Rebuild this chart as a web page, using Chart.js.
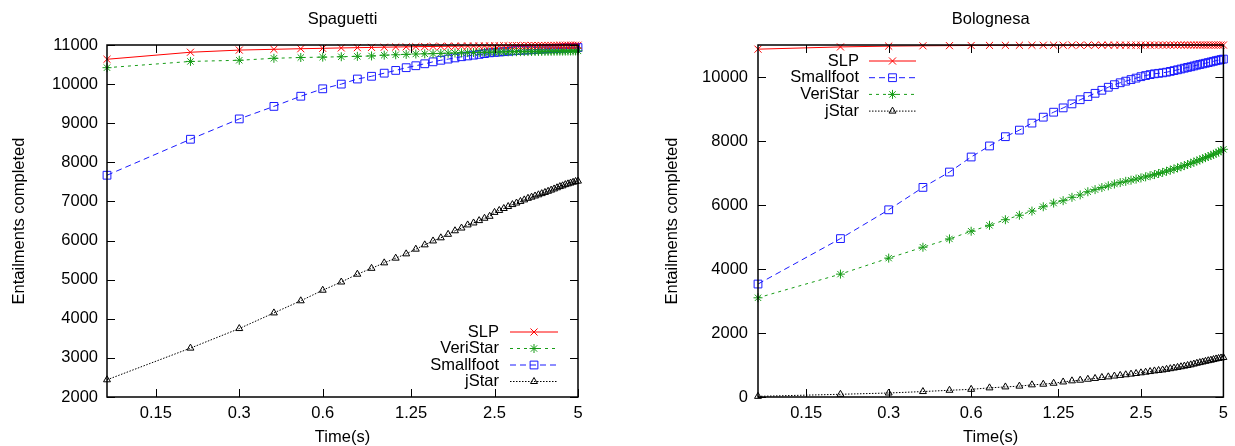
<!DOCTYPE html>
<html>
<head>
<meta charset="utf-8">
<script src="https://cdn.jsdelivr.net/npm/chart.js@4.4.1/dist/chart.umd.min.js"></script>
<style>
  html, body { margin: 0; padding: 0; background: #fff; }
  #wrap { position: relative; width: 1235px; height: 446px; }
  canvas { position: absolute; top: 0; }
</style>
</head>
<body>
<div id="wrap">
  <canvas id="spaguetti" width="617" height="446" style="left:0"></canvas>
  <canvas id="bolognesa" width="618" height="446" style="left:617px"></canvas>
</div>
<script>
// sampling times (s)
const times = [0.1, 0.2, 0.3, 0.4, 0.5, 0.6, 0.7, 0.8, 0.9, 1.0,
  1.1, 1.2, 1.3, 1.4, 1.5, 1.6, 1.7, 1.8, 1.9, 2.0,
  2.1, 2.2, 2.3, 2.4, 2.5, 2.6, 2.7, 2.8, 2.9, 3.0,
  3.1, 3.2, 3.3, 3.4, 3.5, 3.6, 3.7, 3.8, 3.9, 4.0,
  4.1, 4.2, 4.3, 4.4, 4.5, 4.6, 4.7, 4.8, 4.9, 5.0];

const xTicks = [0.15, 0.3, 0.6, 1.25, 2.5, 5];
const xTickLabels = ["0.15", "0.3", "0.6", "1.25", "2.5", "5"];
const spaYTicks = [2000, 3000, 4000, 5000, 6000, 7000, 8000, 9000, 10000, 11000];
const bolYTicks = [0, 2000, 4000, 6000, 8000, 10000];

// Spaguetti
const spaSLP = [10635, 10815, 10870, 10890, 10905, 10915, 10925, 10932, 10938, 10944,
  10949, 10953, 10957, 10960, 10963, 10966, 10968, 10970, 10972, 10974,
  10975, 10976, 10977, 10978, 10979, 10980, 10981, 10982, 10983, 10984,
  10985, 10985, 10986, 10986, 10987, 10987, 10988, 10988, 10989, 10989,
  10990, 10990, 10991, 10991, 10992, 10992, 10993, 10993, 10994, 10994];
const spaVeriStar = [10420, 10580, 10610, 10660, 10680, 10690, 10700, 10710, 10720, 10740,
  10750, 10760, 10770, 10775, 10780, 10785, 10790, 10795, 10800, 10805,
  10808, 10811, 10814, 10817, 10820, 10822, 10824, 10826, 10828, 10830,
  10831, 10832, 10833, 10834, 10835, 10836, 10837, 10838, 10839, 10840,
  10841, 10842, 10843, 10844, 10845, 10846, 10847, 10848, 10849, 10850];
const spaSmallfoot = [7670, 8590, 9110, 9430, 9690, 9880, 10000, 10130, 10200, 10280,
  10350, 10420, 10470, 10520, 10570, 10610, 10640, 10670, 10700, 10720,
  10740, 10760, 10780, 10800, 10810, 10820, 10830, 10840, 10850, 10860,
  10865, 10870, 10875, 10880, 10885, 10890, 10895, 10900, 10905, 10910,
  10912, 10915, 10918, 10920, 10922, 10925, 10928, 10930, 10932, 10935];
const spaJStar = [2440, 3250, 3750, 4150, 4460, 4730, 4940, 5140, 5290, 5430,
  5550, 5660, 5780, 5890, 5990, 6070, 6160, 6250, 6320, 6400,
  6450, 6510, 6570, 6620, 6720, 6770, 6820, 6870, 6920, 6960,
  7000, 7040, 7080, 7110, 7140, 7170, 7200, 7230, 7260, 7290,
  7320, 7350, 7380, 7400, 7430, 7450, 7470, 7490, 7510, 7520];

// Bolognesa
const bolSLP = [10870, 10940, 10965, 10975, 10980, 10985, 10988, 10990, 10991, 10992,
  10993, 10993, 10994, 10994, 10995, 10995, 10995, 10996, 10996, 10996,
  10996, 10997, 10997, 10997, 10997, 10997, 10998, 10998, 10998, 10998,
  10998, 10998, 10998, 10999, 10999, 10999, 10999, 10999, 10999, 10999,
  10999, 10999, 10999, 10999, 10999, 10999, 10999, 10999, 10999, 10999];
const bolSmallfoot = [3530, 4950, 5850, 6550, 7030, 7500, 7845, 8135, 8340, 8560,
  8745, 8900, 9035, 9160, 9290, 9390, 9490, 9585, 9680, 9760,
  9820, 9870, 9920, 9965, 10010, 10045, 10075, 10100, 10115, 10130,
  10150, 10175, 10200, 10225, 10250, 10275, 10300, 10320, 10345, 10370,
  10390, 10410, 10430, 10450, 10470, 10490, 10510, 10525, 10545, 10560];
const bolVeriStar = [3100, 3840, 4340, 4680, 4940, 5180, 5365, 5540, 5680, 5810,
  5945, 6060, 6135, 6240, 6315, 6415, 6480, 6545, 6600, 6655,
  6700, 6740, 6775, 6810, 6845, 6880, 6915, 6950, 6985, 7020,
  7055, 7090, 7125, 7160, 7195, 7230, 7265, 7300, 7340, 7375,
  7410, 7445, 7480, 7515, 7550, 7585, 7620, 7655, 7695, 7740];
const bolJStar = [20, 85, 125, 170, 210, 240, 285, 315, 340, 380,
  400, 430, 470, 505, 525, 555, 580, 610, 630, 655,
  675, 695, 715, 735, 755, 775, 795, 815, 830, 845,
  865, 885, 905, 925, 945, 965, 985, 1005, 1030, 1055,
  1075, 1095, 1115, 1135, 1150, 1170, 1190, 1205, 1220, 1235];

const FONT = '"Liberation Sans", Arial, Helvetica, sans-serif';
const FSIZE = 16.5;
Chart.defaults.font.family = FONT;
Chart.defaults.font.size = FSIZE;
Chart.defaults.color = '#000';

const styles = {
  SLP:       { borderColor: '#ff0000', borderDash: [], pointStyle: 'crossRot', pointRadius: 5 },
  VeriStar:  { borderColor: '#169c16', borderDash: [3, 4], pointStyle: 'star', pointRadius: 4.5 },
  Smallfoot: { borderColor: '#1a1aff', borderDash: [6, 4], pointStyle: 'rect', pointRadius: 5.5 },
  jStar:     { borderColor: '#000000', borderDash: [1.5, 1.5], pointStyle: 'triangle', pointRadius: 4 }
};

function series(label, values) {
  const s = styles[label];
  return {
    label: label,
    data: times.map((t, i) => ({ x: t, y: values[i] })),
    borderColor: s.borderColor,
    borderDash: s.borderDash,
    borderWidth: 1,
    pointStyle: s.pointStyle,
    pointRadius: s.pointRadius,
    pointBorderColor: s.borderColor,
    pointBackgroundColor: 'rgba(0,0,0,0)',
    pointBorderWidth: 1,
    tension: 0,
    fill: false,
    clip: false
  };
}

// border + inward mirror ticks, gnuplot style
const framePlugin = {
  id: 'frame',
  afterDatasetsDraw(chart) {
    const { ctx, chartArea: a, scales: { x, y } } = chart;
    const len = 8;
    ctx.save();
    ctx.strokeStyle = '#000';
    ctx.lineWidth = 1;
    ctx.beginPath();
    x.ticks.forEach(t => {
      const px = Math.round(x.getPixelForValue(t.value)) + 0.5;
      ctx.moveTo(px, a.bottom); ctx.lineTo(px, a.bottom - len);
      ctx.moveTo(px, a.top); ctx.lineTo(px, a.top + len);
    });
    y.ticks.forEach(t => {
      const py = Math.round(y.getPixelForValue(t.value)) + 0.5;
      ctx.moveTo(a.left, py); ctx.lineTo(a.left + len, py);
      ctx.moveTo(a.right, py); ctx.lineTo(a.right - len, py);
    });
    ctx.stroke();
    ctx.lineWidth = 1.5;
    ctx.strokeRect(a.left, a.top, a.right - a.left, a.bottom - a.top);
    ctx.restore();
  }
};

// key drawn inside the plot area
const insideLegend = {
  id: 'insideLegend',
  afterDraw(chart, args, opts) {
    const { ctx, chartArea: a } = chart;
    ctx.save();
    ctx.font = FSIZE + 'px ' + FONT;
    ctx.textAlign = 'right';
    ctx.textBaseline = 'middle';
    chart.data.datasets.forEach((ds, i) => {
      const y = a.top + opts.top + i * opts.step;
      ctx.fillStyle = '#000';
      ctx.fillText(ds.label, a.left + opts.textRight, y);
      ctx.strokeStyle = ds.borderColor;
      ctx.lineWidth = ds.borderWidth;
      ctx.setLineDash(ds.borderDash);
      ctx.beginPath();
      ctx.moveTo(a.left + opts.lineStart, y);
      ctx.lineTo(a.left + opts.lineEnd, y);
      ctx.stroke();
      ctx.setLineDash([]);
      ctx.fillStyle = 'rgba(0,0,0,0)';
      ctx.lineWidth = ds.pointBorderWidth;
      Chart.helpers.drawPoint(ctx, {
        pointStyle: ds.pointStyle, radius: ds.pointRadius, rotation: 0, borderWidth: ds.pointBorderWidth
      }, a.left + (opts.lineStart + opts.lineEnd) / 2, y);
    });
    ctx.restore();
  }
};

function makeChart(id, title, datasets, yTicks, yMin, yMax, cfg) {
  return new Chart(document.getElementById(id), {
    type: 'line',
    data: { datasets: datasets },
    plugins: [framePlugin, insideLegend],
    options: {
      responsive: false,
      animation: false,
      layout: { padding: { left: 0, right: cfg.padRight, top: 0, bottom: 0 } },
      plugins: {
        legend: { display: false },
        tooltip: { enabled: false },
        title: {
          display: true, text: title, fullSize: false,
          font: { size: FSIZE, weight: 'normal', lineHeight: 1.2 },
          padding: { top: 10, bottom: 15.2 }
        },
        insideLegend: cfg.legend
      },
      scales: {
        x: {
          type: 'logarithmic',
          min: 0.1, max: 5,
          grid: { display: false, drawTicks: false },
          border: { display: false },
          afterBuildTicks: s => { s.ticks = xTicks.map(v => ({ value: v })); },
          afterFit: s => { s.height = 49; },
          ticks: {
            autoSkip: false, maxRotation: 0, padding: 7,
            callback: (v, i) => xTickLabels[i]
          },
          title: {
            display: true, text: 'Time(s)',
            font: { size: FSIZE, lineHeight: 1 },
            padding: { top: 0, bottom: 0 }
          }
        },
        y: {
          type: 'linear',
          min: yMin, max: yMax,
          grid: { display: false, drawTicks: false },
          border: { display: false },
          afterBuildTicks: s => { s.ticks = yTicks.map(v => ({ value: v })); },
          afterFit: s => { s.width = cfg.yWidth; },
          ticks: { padding: cfg.yLabelPad, callback: v => String(v) },
          title: {
            display: true, text: 'Entailments completed',
            font: { size: FSIZE },
            padding: { top: cfg.yTitlePad, bottom: 0 }
          }
        }
      }
    }
  });
}

makeChart('spaguetti', 'Spaguetti',
  [series('SLP', spaSLP), series('VeriStar', spaVeriStar),
   series('Smallfoot', spaSmallfoot), series('jStar', spaJStar)],
  spaYTicks, 2000, 11000,
  { padRight: 39, yWidth: 107, yLabelPad: 9, yTitlePad: 10,
    legend: { textRight: 392, lineStart: 403, lineEnd: 451, top: 287, step: 16.5 } });

makeChart('bolognesa', 'Bolognesa',
  [series('SLP', bolSLP), series('Smallfoot', bolSmallfoot),
   series('VeriStar', bolVeriStar), series('jStar', bolJStar)],
  bolYTicks, 0, 11000,
  { padRight: 6, yWidth: 141, yLabelPad: 10, yTitlePad: 45.4,
    legend: { textRight: 101, lineStart: 111, lineEnd: 158, top: 16, step: 16.7 } });
</script>
</body>
</html>
